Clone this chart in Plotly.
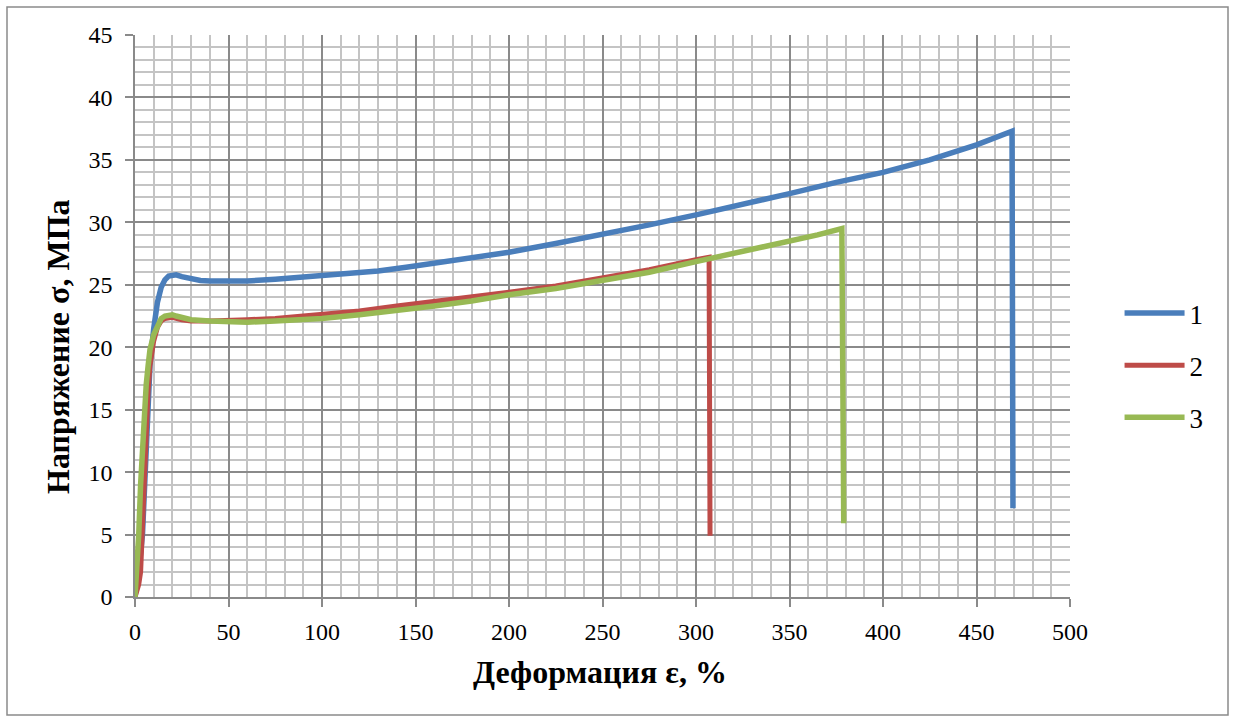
import plotly.graph_objects as go

# Series 1 (blue)
x1 = [0, 1, 2, 3, 4, 5, 6, 7, 8, 10, 12, 14, 16, 18, 20, 22, 25, 30, 35, 40, 50, 60, 75, 90,
      100, 115, 130, 145, 160, 180, 200, 225, 250, 275, 300, 325, 350, 375, 400, 425, 450, 469, 469.5]
y1 = [0, 1, 2.5, 3.5, 5, 9, 13, 16, 18.5, 21.5, 23.6, 24.8, 25.4, 25.7, 25.8, 25.8, 25.65, 25.45, 25.35, 25.3,
      25.3, 25.3, 25.45, 25.6, 25.7, 25.9, 26.1, 26.4, 26.7, 27.1, 27.6, 28.3, 29.0, 29.8, 30.6, 31.4,
      32.3, 33.2, 34.0, 35.0, 36.2, 37.3, 7.1]

# Series 2 (red)
x2 = [0, 1, 2, 3, 4, 5, 6, 7, 8, 10, 12, 14, 16, 18, 20, 25, 30, 40, 50, 60, 75, 90, 100, 120, 140,
      160, 180, 200, 225, 250, 275, 300, 307, 307.5]
y2 = [0, 0.5, 1, 2, 6, 11, 14, 16.5, 18.5, 20.5, 21.6, 22.1, 22.3, 22.4, 22.4, 22.2, 22.1, 22.1, 22.1,
      22.2, 22.3, 22.5, 22.6, 22.9, 23.3, 23.7, 24.0, 24.4, 24.9, 25.5, 26.2, 27.0, 27.2, 4.9]

# Series 3 (green)
x3 = [0, 1, 2, 3, 4, 5, 6, 7, 8, 10, 12, 14, 16, 18, 20, 22, 25, 30, 40, 50, 60, 75, 90, 100, 120,
      140, 160, 180, 200, 225, 250, 275, 300, 325, 350, 365, 378, 379]
y3 = [0, 2, 5, 9, 12.5, 15, 17, 18.5, 19.8, 21, 21.8, 22.3, 22.5, 22.6, 22.6, 22.5, 22.4, 22.2, 22.1,
      22.0, 22.0, 22.1, 22.2, 22.3, 22.6, 22.9, 23.3, 23.7, 24.2, 24.7, 25.3, 26.0, 26.85, 27.65,
      28.5, 29.0, 29.5, 5.9]

names = ["1", "2", "3"]
colors = ["#4A7EBB", "#BE4B48", "#98B954"]
widths = [5.5, 5, 5.5]

x_ticks = list(range(0, 501, 50))
y_ticks = list(range(0, 46, 5))
x_title = "Деформация ε, %"
y_title = "Напряжение σ, МПа"

fig = go.Figure()
for i, (xs, ys) in enumerate([(x1, y1), (x2, y2), (x3, y3)]):
    fig.add_trace(go.Scatter(x=xs, y=ys, mode="lines", name=names[i], legendgroup=names[i],
                             line=dict(color=colors[i], width=widths[i])))

font = "Liberation Serif"
fig.update_layout(
    width=1234, height=722,
    margin=dict(l=135, r=164, t=35, b=125),
    paper_bgcolor="white", plot_bgcolor="white",
    font=dict(family=font, color="black", size=24),
    showlegend=True,
    legend=dict(x=1.053, y=0.548, xanchor="left", yanchor="top",
                font=dict(family=font, size=27, color="black"),
                tracegroupgap=14, itemwidth=60, bgcolor="rgba(0,0,0,0)"),
    xaxis=dict(range=[0, 500], tickvals=x_ticks, ticktext=[str(v) for v in x_ticks],
               showgrid=True, gridcolor="#8a8a8a", gridwidth=1.5,
               minor=dict(dtick=10, showgrid=True, gridcolor="#c4c4c4", gridwidth=1.5),
               showline=True, linecolor="#8a8a8a", linewidth=1.5,
               ticks="outside", ticklen=8, tickcolor="#8a8a8a", tickwidth=1.5,
               ticklabelstandoff=4,
               zeroline=False, tickfont=dict(family=font, size=24, color="black")),
    yaxis=dict(range=[0, 45], tickvals=y_ticks, ticktext=[str(v) for v in y_ticks],
               showgrid=True, gridcolor="#8a8a8a", gridwidth=1.5,
               minor=dict(dtick=1, showgrid=True, gridcolor="#c4c4c4", gridwidth=1.5),
               showline=True, linecolor="#8a8a8a", linewidth=1.5,
               ticks="outside", ticklen=8, tickcolor="#8a8a8a", tickwidth=1.5,
               ticklabelstandoff=8,
               zeroline=False, tickfont=dict(family=font, size=24, color="black")),
)

fig.add_annotation(text="<b>" + x_title + "</b>", xref="paper", yref="paper",
                   x=(600 - 135) / 935, y=(597 - 672) / 562, xanchor="center", yanchor="middle",
                   showarrow=False, font=dict(family=font, size=32, color="black"))
fig.add_annotation(text="<b>" + y_title + "</b>", xref="paper", yref="paper",
                   x=(58 - 135) / 935, y=(597 - 347) / 562, xanchor="center", yanchor="middle",
                   textangle=-90, showarrow=False, font=dict(family=font, size=32, color="black"))

# outer chart frame
fig.add_shape(type="rect", xref="paper", yref="paper",
              x0=(7 - 135) / 935, x1=(1228 - 135) / 935,
              y0=(597 - 715) / 562, y1=(597 - 7) / 562,
              line=dict(color="#8a8a8a", width=1.5), layer="below")

fig.write_html("out.html")
